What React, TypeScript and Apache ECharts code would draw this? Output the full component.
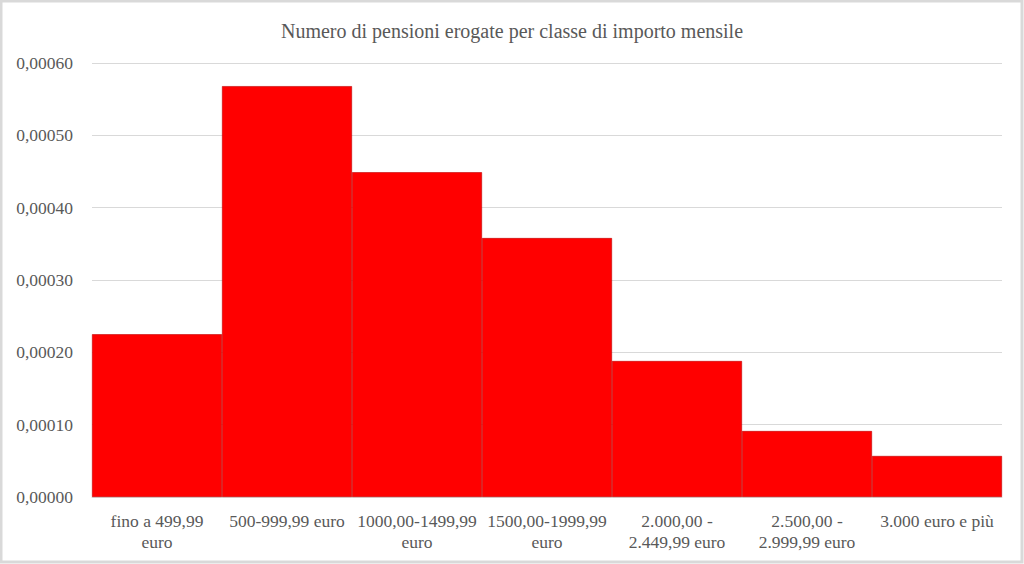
import React, { useEffect, useRef } from "react";
import * as echarts from "echarts";

const title = "Numero di pensioni erogate per classe di importo mensile";
const categories = [
  "fino a 499,99\neuro",
  "500-999,99 euro",
  "1000,00-1499,99\neuro",
  "1500,00-1999,99\neuro",
  "2.000,00 -\n2.449,99 euro",
  "2.500,00 -\n2.999,99 euro",
  "3.000 euro e più",
];
const values = [0.000225, 0.000568, 0.000449, 0.000358, 0.000188, 0.0000912, 0.0000567];
const yMin = 0;
const yMax = 0.0006;
const yInterval = 0.0001;

const FONT = "'Liberation Serif', 'Times New Roman', serif";

export default function App() {
  const ref = useRef<HTMLDivElement>(null);
  useEffect(() => {
    if (!ref.current) return;
    const chart = echarts.init(ref.current, null, { renderer: "svg" });
    chart.setOption({
      animation: false,
      backgroundColor: "#ffffff",
      title: {
        text: title,
        left: "center",
        top: 16,
        textStyle: { fontFamily: FONT, fontSize: 20, fontWeight: "normal", color: "#595959" },
      },
      graphic: [
        {
          type: "rect",
          shape: { x: 1, y: 1, width: 1021, height: 561 },
          style: { fill: "none", stroke: "#d9d9d9", lineWidth: 3 },
          silent: true,
        },
      ],
      grid: { left: 92, right: 22, top: 63, bottom: 67 },
      xAxis: {
        type: "category",
        data: categories,
        axisLine: { show: true, lineStyle: { color: "#d9d9d9" } },
        axisTick: { show: false },
        axisLabel: {
          interval: 0,
          margin: 13,
          fontFamily: FONT,
          fontSize: 17.5,
          color: "#595959",
          lineHeight: 21,
        },
      },
      yAxis: {
        type: "value",
        min: yMin,
        max: yMax,
        interval: yInterval,
        axisLine: { show: false },
        axisTick: { show: false },
        splitLine: { lineStyle: { color: "#d9d9d9", width: 1 } },
        axisLabel: {
          margin: 19,
          fontFamily: FONT,
          fontSize: 17.5,
          color: "#595959",
          formatter: (v: number) => v.toFixed(5).replace(".", ","),
        },
      },
      series: [
        {
          type: "bar",
          data: values,
          barCategoryGap: "0%",
          itemStyle: { color: "#ff0000", borderColor: "#c00000", borderWidth: 0.6 },
        },
      ],
    });
    return () => chart.dispose();
  }, []);
  return (
    <div
      ref={ref}
      style={{ position: "fixed", left: 0, top: 0, width: 1024, height: 564 }}
    />
  );
}
